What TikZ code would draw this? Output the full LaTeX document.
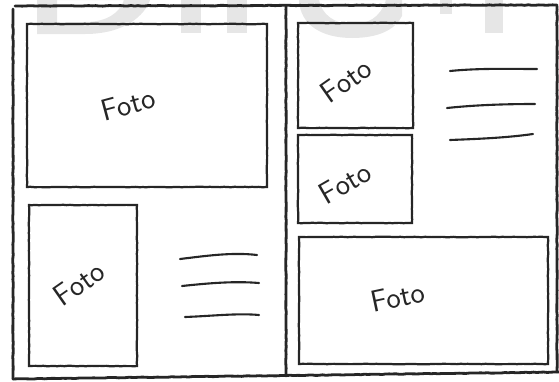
\documentclass[tikz,border=0pt]{standalone}
\usepackage{tikz}
\usetikzlibrary{decorations.pathmorphing}
\definecolor{stift}{HTML}{262626}
\definecolor{wasser}{HTML}{E6E6E6}
\tikzset{
  rahmen/.style={stift,line width=2.4pt,line cap=round,decorate,decoration={random steps,segment length=3pt,amplitude=0.25pt}},
  bild/.style={stift,line width=1.9pt,line cap=round,decorate,decoration={random steps,segment length=3pt,amplitude=0.2pt}},
  zeile/.style={stift,line width=1.8pt,line cap=round},
  fototxt/.style={stift,font=\sffamily\fontsize{26}{28}\selectfont,inner sep=0pt},
  marke/.style={fill=wasser,draw=none},
}
\pgfmathsetseed{7}

\begin{document}
\begin{tikzpicture}[x=0.03cm,y=-0.03cm]
  \useasboundingbox (0,0) rectangle (559,381);
  % Wasserzeichen
  \fill[marke,even odd rule] (37,0) -- (37,34) -- (85,34) .. controls (125,34) and (145,15) .. (150,0) -- cycle
        (57,0) -- (57,22) -- (85,22) .. controls (108,22) and (120,12) .. (124,0) -- cycle;
  \fill[marke] (181,0) rectangle (201,33);
  \fill[marke] (227,0) rectangle (247,33);
  \fill[marke,even odd rule] (299,0) .. controls (300,25) and (322,38) .. (352,38) .. controls (378,38) and (395,30) .. (402,16) -- (402,0) -- cycle
        (319,0) .. controls (322,15) and (335,24) .. (352,24) .. controls (368,24) and (380,18) .. (386,0) -- cycle;
  \fill[marke] (440,0) rectangle (452,14);
  \fill[marke] (485,0) rectangle (503,33);
  % Rahmen und Falz
  \draw[rahmen] (15,6) -- (557,5);
  \draw[rahmen] (13,9) -- (13,379);
  \draw[rahmen] (13,379) -- (559,372);
  \draw[rahmen] (557,6) -- (557,372);
  \draw[rahmen] (286,6) -- (286,376);
  % linke Seite
  \draw[bild] (27,24) rectangle (267,187);
  \draw[bild] (29,205) rectangle (137,366);
  \node[fototxt,rotate=15] (f1) at (128,104) {Foto};
  \node[fototxt,rotate=35] (f2) at (79,283) {Foto};
  \draw[zeile] (180,259) .. controls (205,256) and (232,252) .. (257,255);
  \draw[zeile] (182,286) .. controls (210,283) and (235,281) .. (259,283);
  \draw[zeile] (185,317) .. controls (212,316) and (238,313) .. (259,315);
  % rechte Seite
  \draw[bild] (298,23) rectangle (413,128);
  \draw[bild] (298,135) rectangle (412,223);
  \draw[bild] (299,237) rectangle (548,364);
  \node[fototxt,rotate=35] (f3) at (346,80) {Foto};
  \node[fototxt,rotate=30] (f4) at (345,183) {Foto};
  \node[fototxt,rotate=12] (f5) at (398,297) {Foto};
  \draw[zeile] (450,71) .. controls (480,68) and (510,69) .. (537,69);
  \draw[zeile] (447,108) .. controls (475,105) and (505,104) .. (535,104);
  \draw[zeile] (450,140) .. controls (475,139) and (505,138) .. (533,134);
\end{tikzpicture}
\end{document}
